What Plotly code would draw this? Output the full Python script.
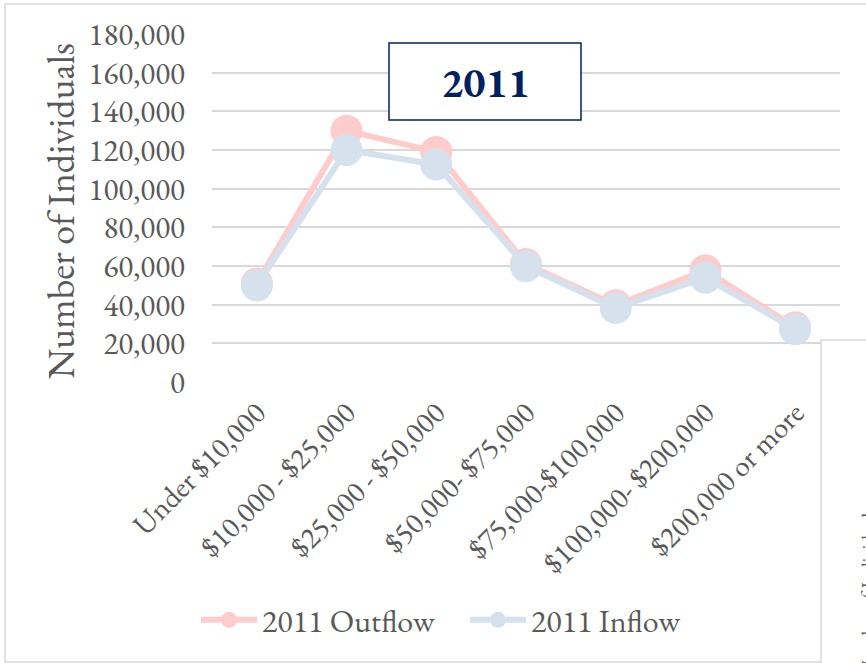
import plotly.graph_objects as go

# Income brackets and migration counts
categories = ["Under $10,000", "$10,000 - $25,000", "$25,000 - $50,000",
              "$50,000- $75,000", "$75,000-$100,000", "$100,000- $200,000",
              "$200,000 or more"]
outflow_2011 = [51000, 130000, 119000, 61000, 39700, 57800, 28300]
inflow_2011 = [50000, 120000, 112500, 59900, 38300, 54000, 27300]
y_ticks = [0, 20000, 40000, 60000, 80000, 100000, 120000, 140000, 160000, 180000]
y_tick_text = ["0", "20,000", "40,000", "60,000", "80,000", "100,000",
               "120,000", "140,000", "160,000", "180,000"]

FONT = "Garamond, 'EB Garamond', 'Liberation Serif', serif"
TEXT = "#595959"
GRID = "#D9D9D9"
PINK = "#FFCCCC"
BLUE = "#D5E1EC"
NAVY = "#002060"

W, H = 866, 663
L, R, T, B = 212, 26, 34, 281
pw, ph = W - L - R, H - T - B


def px_x(x):
    return (x - L) / pw


def px_y(y):
    return (H - B - y) / ph


fig = go.Figure()
fig.add_trace(go.Scatter(
    x=categories, y=outflow_2011, name="2011 Outflow", mode="lines+markers",
    line=dict(color=PINK, width=6), marker=dict(color=PINK, size=32),
    cliponaxis=False))
fig.add_trace(go.Scatter(
    x=categories, y=inflow_2011, name="2011 Inflow", mode="lines+markers",
    line=dict(color=BLUE, width=6), marker=dict(color=BLUE, size=32),
    cliponaxis=False))

fig.update_layout(
    width=W, height=H,
    margin=dict(l=L, r=R, t=T, b=B, autoexpand=False),
    paper_bgcolor="white", plot_bgcolor="white",
    font=dict(family=FONT, color=TEXT, size=28),
    showlegend=True,
    legend=dict(orientation="h", x=px_x(196), xanchor="left",
                y=px_y(620), yanchor="middle",
                font=dict(size=32, color=TEXT), itemwidth=56,
                entrywidth=198, entrywidthmode="pixels",
                bgcolor="rgba(0,0,0,0)"),
    xaxis=dict(range=[-0.5, len(categories) - 0.5],
               showgrid=False, zeroline=False, showline=False, ticks="",
               tickangle=-45, tickfont=dict(size=30, color=TEXT),
               ticklabelstandoff=6, automargin=False),
    yaxis=dict(range=[0, 180000], tickvals=y_ticks, ticktext=y_tick_text,
               showgrid=True, gridcolor=GRID, gridwidth=1.5, zeroline=False,
               showline=False, ticks="", tickfont=dict(size=31, color=TEXT),
               ticklabelstandoff=26, automargin=False),
)

# Y axis title
fig.add_annotation(text="Number of Individuals", textangle=-90,
                   xref="paper", yref="paper", x=px_x(60), y=px_y(211),
                   xanchor="center", yanchor="middle", showarrow=False,
                   font=dict(size=38, color=TEXT, family=FONT))

# Year box
fig.add_shape(type="rect", xref="paper", yref="paper",
              x0=px_x(389), x1=px_x(581), y0=px_y(120), y1=px_y(43),
              fillcolor="white", line=dict(color=NAVY, width=1.5), layer="above")
fig.add_annotation(text="<b>2011</b>", xref="paper", yref="paper",
                   x=px_x(485), y=px_y(82), xanchor="center", yanchor="middle",
                   showarrow=False, font=dict(size=42, color=NAVY, family=FONT))

# Outer chart border
fig.add_shape(type="rect", xref="paper", yref="paper",
              x0=px_x(5), x1=px_x(880), y0=px_y(662), y1=px_y(4),
              fillcolor="rgba(0,0,0,0)", line=dict(color=GRID, width=1.5),
              layer="above")

# Adjacent chart panel
fig.add_shape(type="rect", xref="paper", yref="paper",
              x0=px_x(821), x1=px_x(900), y0=px_y(700), y1=px_y(340),
              fillcolor="white", line=dict(color=GRID, width=1.5), layer="above")
fig.add_annotation(text="Number of Individuals", textangle=-90,
                   xref="paper", yref="paper", x=px_x(868), y=px_y(591),
                   xanchor="center", yanchor="middle", showarrow=False,
                   font=dict(size=19, color=TEXT, family=FONT))

fig.write_html("out.html")
